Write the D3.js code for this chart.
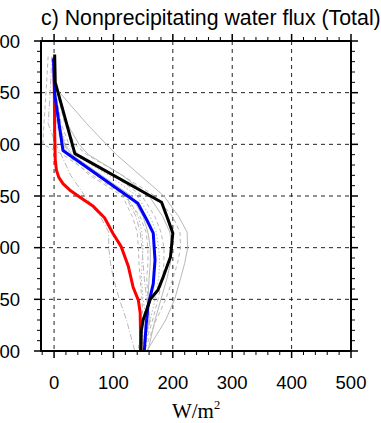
<!DOCTYPE html>
<html><head><meta charset="utf-8">
<script src="https://cdn.jsdelivr.net/npm/d3@7"></script>
<style>html,body{margin:0;padding:0;background:#fff;overflow:hidden}</style>
</head><body>
<svg id="c" width="381" height="423"></svg>
<script>
// ---- data ----
const titleText = "c) Nonprecipitating water flux (Total)";
const xTicks = [0, 100, 200, 300, 400, 500];
const yTicks = [700, 750, 800, 850, 900, 950, 1000];

const blackP = [713, 740, 809, 856, 873, 886, 909, 928, 941, 950, 960, 970, 980, 1000];
const blackX = [1, 2, 35, 181, 192, 200, 196, 184, 175, 162, 156, 150, 147, 146];

const blueP = [717, 751, 806, 857, 873, 886, 912, 935, 957, 975, 1000];
const blueX = [-1, 1, 15, 141, 156, 167, 170, 167, 158, 155, 152];

const redP = [716, 787, 815, 825, 832, 838, 845, 851, 860, 871, 886, 899, 918, 938, 951, 963, 1000];
const redX = [0, 1, 2, 4, 8, 15, 28, 43, 66, 85, 99, 113, 125, 133, 142, 145, 146];

const grayP = [715, 745, 780, 800, 810, 830, 850, 870, 885, 900, 915, 930, 950, 970, 1000];
const grayA = [0, 2, 55, 88, 105, 145, 185, 210, 224, 225, 220, 213, 203, 188, 156];
const grayB = [0, 3, 18, 35, 55, 115, 170, 200, 212, 213, 208, 200, 188, 172, 152];
const grayC = [-4, -6, -10, 3, 12, 28, 52, 78, 92, 92, 95, 100, 110, 122, 136];
const grayD = [-10, -13, -17, -19, 15, 65, 120, 145, 155, 158, 158, 156, 158, 160, 148];
const grayE = [0, 1, 8, 18, 30, 80, 130, 150, 158, 162, 162, 160, 158, 160, 150];
const grayF = [0, 2, 6, 14, 25, 72, 122, 142, 148, 150, 148, 147, 150, 155, 147];
const grayG = [0, 1, 12, 25, 42, 100, 148, 170, 180, 185, 185, 183, 175, 166, 150];
const grayH = [0, 1, 8, 16, 28, 75, 120, 138, 145, 148, 150, 152, 156, 162, 145];
const grayI = [0, 3, 22, 42, 58, 115, 160, 183, 195, 198, 196, 190, 180, 170, 158];
const grayJ = [0, 0, 5, 12, 22, 60, 115, 132, 140, 142, 143, 145, 148, 150, 141];
const grayK = [0, 2, 10, 20, 35, 92, 140, 162, 172, 176, 178, 176, 170, 162, 152];

// ---- layout ----
const L = 41, R = 351, T = 41, B = 351;
const svg = d3.select("#c");
const x = d3.scaleLinear().domain([-22, 500]).range([L, R]);
const y = d3.scaleLinear().domain([700, 1000]).range([T, B]);
const font = "'Liberation Sans', Arial, Helvetica, sans-serif";

// gridlines
const g = svg.append("g");
g.selectAll(".vg").data(xTicks.filter(d => d < 500)).enter().append("line")
  .attr("x1", d => x(d)).attr("x2", d => x(d)).attr("y1", T).attr("y2", B)
  .attr("stroke", "#222").attr("stroke-width", 1).attr("stroke-dasharray", "4,4");
g.selectAll(".hg").data(yTicks.filter(d => d > 700 && d < 1000)).enter().append("line")
  .attr("x1", L).attr("x2", R).attr("y1", d => y(d)).attr("y2", d => y(d))
  .attr("stroke", "#222").attr("stroke-width", 1).attr("stroke-dasharray", "4,4");

// lines
const line = d3.line().x(d => x(d[0])).y(d => y(d[1]));
const grays = [
  [grayA, null], [grayB, "4,3"], [grayC, "6,2,1,2"], [grayD, "4,3"], [grayE, null],
  [grayF, "1.5,2"], [grayG, "4,3"], [grayH, "6,2,1,2"], [grayI, null], [grayJ, "4,3"], [grayK, "1.5,2"]
];
const clip = svg.append("clipPath").attr("id", "pc").append("rect")
  .attr("x", L).attr("y", T).attr("width", R - L).attr("height", B - T);
const lg = svg.append("g").attr("clip-path", "url(#pc)");
grays.forEach(([vals, dash]) => {
  lg.append("path").datum(vals.map((v, i) => [v, grayP[i]]))
    .attr("d", line).attr("fill", "none").attr("stroke", "#b8b8b8")
    .attr("stroke-width", 1).attr("stroke-dasharray", dash);
});
const main = [[redX, redP, "#ff0000"], [blueX, blueP, "#0000ff"], [blackX, blackP, "#000000"]];
main.forEach(([xs, ps, c]) => {
  lg.append("path").datum(xs.map((v, i) => [v, ps[i]]))
    .attr("d", line).attr("fill", "none").attr("stroke", c)
    .attr("stroke-width", 3).attr("stroke-linejoin", "round");
});

// axes (outward ticks)
const ax = svg.append("g").attr("stroke", "#000");
const xMinor = d3.range(-20, 501, 20).filter(d => d % 100 !== 0);
const yMinor = d3.range(710, 1000, 10).filter(d => d % 50 !== 0);
xTicks.forEach(d => {
  ax.append("line").attr("x1", x(d)).attr("x2", x(d)).attr("y1", B).attr("y2", B + 7).attr("stroke-width", 1.5);
  ax.append("line").attr("x1", x(d)).attr("x2", x(d)).attr("y1", T).attr("y2", T - 7).attr("stroke-width", 1.5);
});
xMinor.forEach(d => {
  ax.append("line").attr("x1", x(d)).attr("x2", x(d)).attr("y1", B).attr("y2", B + 4).attr("stroke-width", 1);
  ax.append("line").attr("x1", x(d)).attr("x2", x(d)).attr("y1", T).attr("y2", T - 4).attr("stroke-width", 1);
});
yTicks.forEach(d => {
  ax.append("line").attr("y1", y(d)).attr("y2", y(d)).attr("x1", L).attr("x2", L - 7).attr("stroke-width", 1.5);
  ax.append("line").attr("y1", y(d)).attr("y2", y(d)).attr("x1", R).attr("x2", R + 7).attr("stroke-width", 1.5);
});
yMinor.forEach(d => {
  ax.append("line").attr("y1", y(d)).attr("y2", y(d)).attr("x1", L).attr("x2", L - 4).attr("stroke-width", 1);
  ax.append("line").attr("y1", y(d)).attr("y2", y(d)).attr("x1", R).attr("x2", R + 4).attr("stroke-width", 1);
});
svg.append("rect").attr("x", L).attr("y", T).attr("width", R - L).attr("height", B - T)
  .attr("fill", "none").attr("stroke", "#000").attr("stroke-width", 2);

// tick labels (the panel is cropped on the left, as in the reference)
svg.selectAll(".xl").data(xTicks).enter().append("text")
  .attr("x", d => x(d)).attr("y", 389).attr("text-anchor", "middle")
  .attr("font-family", font).attr("font-size", 18.5).text(d => d);
svg.selectAll(".yl").data(yTicks).enter().append("text")
  .attr("x", 20).attr("y", d => y(d) + 6.5).attr("text-anchor", "end")
  .attr("font-family", font).attr("font-size", 18.5).text(d => d);

// title
svg.append("text").attr("x", 41).attr("y", 25).attr("font-family", font)
  .attr("font-size", 21.3).text(titleText);

// x label
const xl = svg.append("text").attr("x", 196).attr("y", 418).attr("text-anchor", "middle")
  .attr("font-family", "'Liberation Serif', 'Times New Roman', serif").attr("font-size", 21);
xl.append("tspan").text("W/m");
xl.append("tspan").attr("font-size", 12.5).attr("dy", -9).text("2");
</script>
</body></html>
